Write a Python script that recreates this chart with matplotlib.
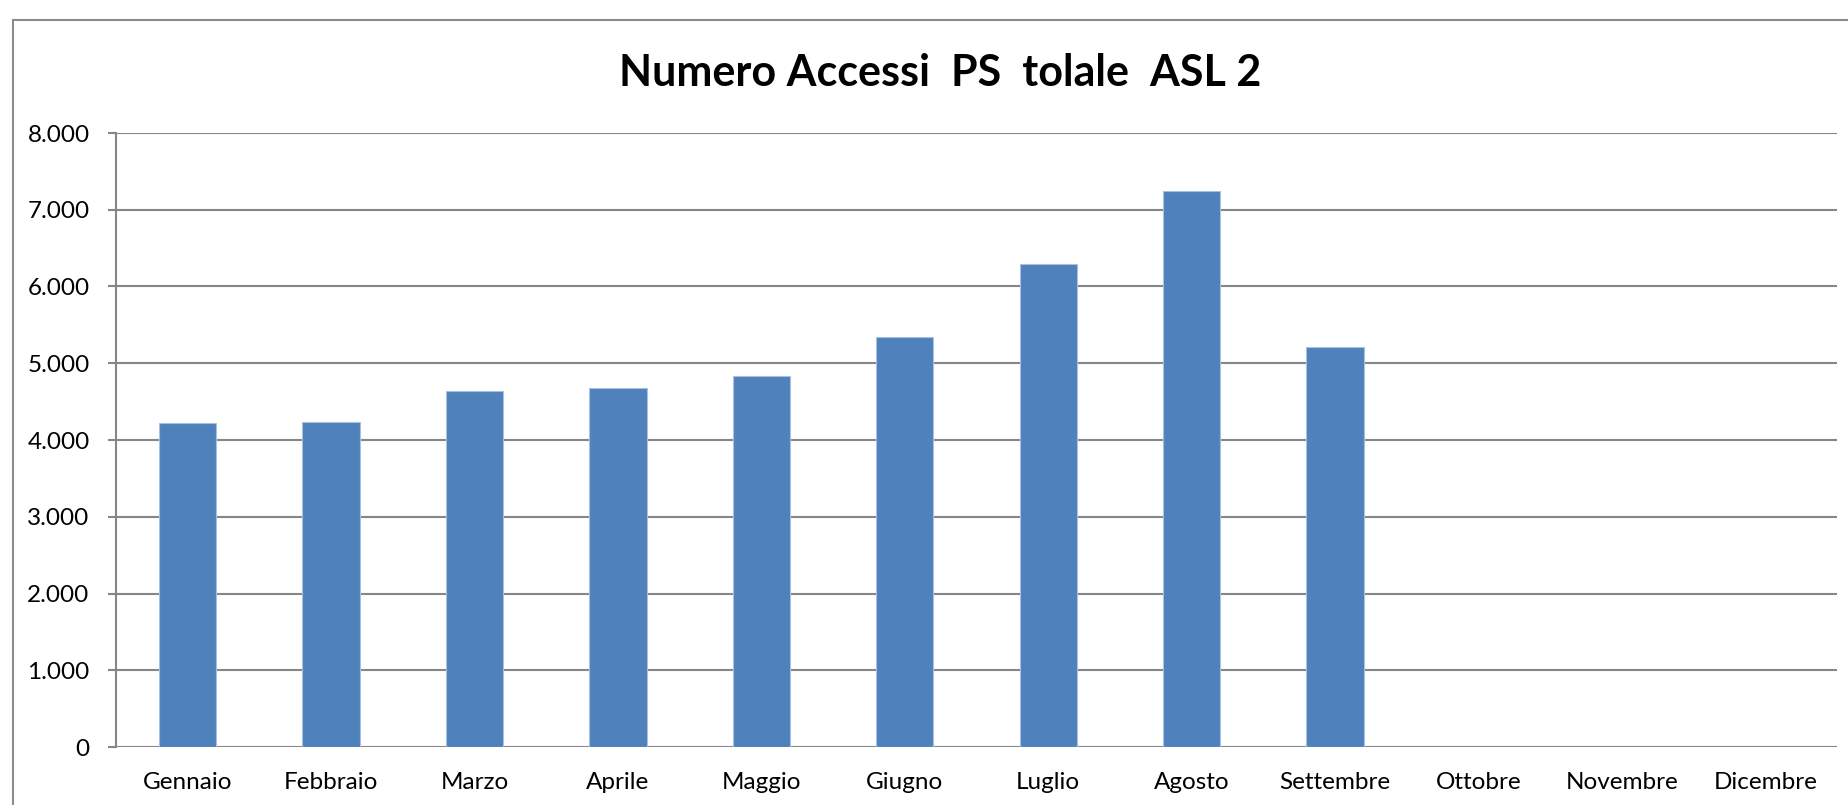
import matplotlib
matplotlib.use('Agg')
import matplotlib.pyplot as plt
from matplotlib.ticker import FuncFormatter
from matplotlib.lines import Line2D

mesi = ['Gennaio', 'Febbraio', 'Marzo', 'Aprile', 'Maggio', 'Giugno',
        'Luglio', 'Agosto', 'Settembre', 'Ottobre', 'Novembre', 'Dicembre']
accessi = [4220, 4233, 4641, 4676, 4833, 5336, 6293, 7249, 5211]
y_ticks = [0, 1000, 2000, 3000, 4000, 5000, 6000, 7000, 8000]

W, H = 1848, 805
plt.rcParams['font.family'] = ['Lato', 'DejaVu Sans']

fig = plt.figure(figsize=(W / 100, H / 100), dpi=100)
ax = fig.add_axes([116 / W, 1 - 747 / H, (1837 - 116) / W, (747 - 133) / H])

grigio = '#868686'

#barre (solo i mesi con dati)
ax.bar(range(len(accessi)), accessi, width=0.4, color='#4f81bd',
       edgecolor='#a9c1e0', linewidth=0.8, zorder=3)

ax.set_xlim(-0.5, len(mesi) - 0.5)
ax.set_ylim(0, 8000)
ax.set_xticks(range(len(mesi)))
ax.set_xticklabels(mesi, fontsize=17.5)
ax.set_yticks(y_ticks)
ax.yaxis.set_major_formatter(FuncFormatter(lambda v, p: f'{int(v):,}'.replace(',', '.')))
ax.tick_params(axis='y', labelsize=17.5, length=6, width=1.5, color=grigio, pad=13)
ax.tick_params(axis='x', length=0, pad=18)

ax.grid(axis='y', color=grigio, linewidth=1.5, zorder=0)
for s in ['top', 'right', 'bottom']:
    ax.spines[s].set_visible(False)
ax.spines['left'].set_color(grigio)
ax.spines['left'].set_linewidth(1.5)

#cornice esterna del grafico
fig.add_artist(Line2D([13 / W, 1], [1 - 20 / H, 1 - 20 / H], color='#8c8c8c', linewidth=1.5))
fig.add_artist(Line2D([13 / W, 13 / W], [0, 1 - 20 / H], color='#8c8c8c', linewidth=1.5))

fig.text(940 / W, 1 - 73 / H, 'Numero Accessi  PS  tolale  ASL 2',
         fontsize=31, fontweight='bold', ha='center', va='center')

fig.savefig('out.png', dpi=100)
